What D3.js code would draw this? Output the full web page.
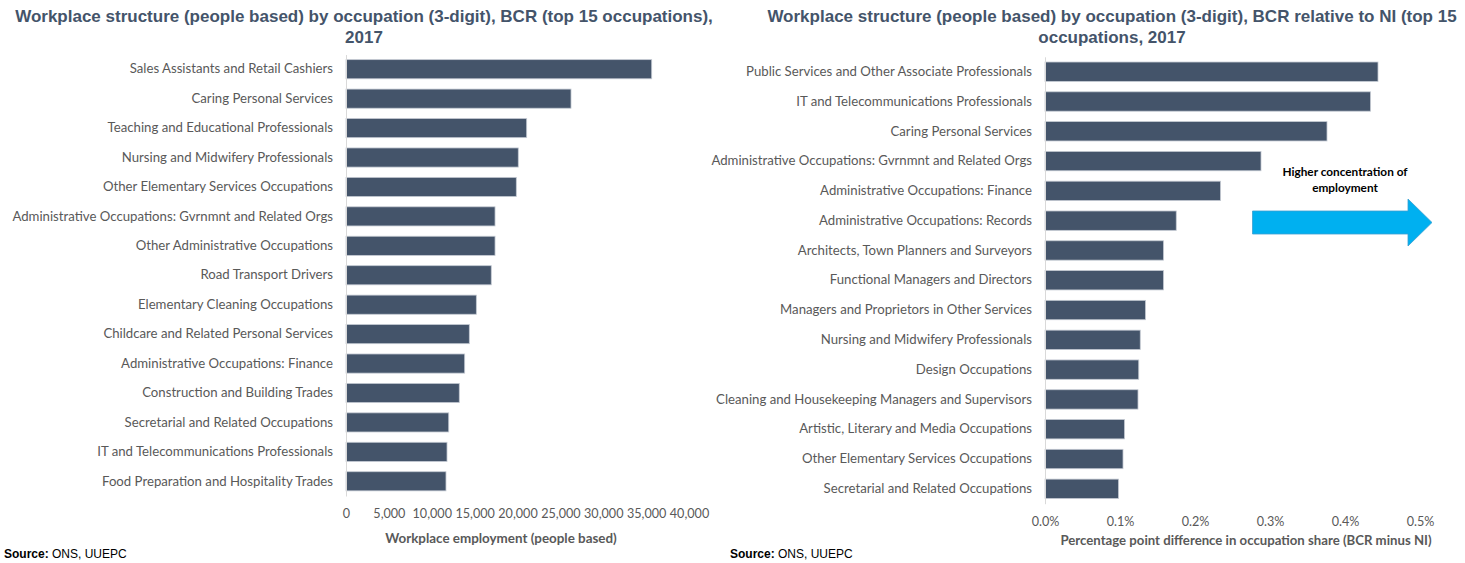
<!DOCTYPE html>
<html>
<head>
<meta charset="utf-8">
<script src="https://cdn.jsdelivr.net/npm/d3@7"></script>
<style>
  html, body { margin: 0; padding: 0; background: #fff; }
  svg { display: block; }
</style>
</head>
<body>
<svg id="chart" width="1465" height="563"></svg>
<script>
// Left panel: workplace employment, top 15 occupations (people)
const leftCategories = [
  "Sales Assistants and Retail Cashiers",
  "Caring Personal Services",
  "Teaching and Educational Professionals",
  "Nursing and Midwifery Professionals",
  "Other Elementary Services Occupations",
  "Administrative Occupations: Gvrnmnt and Related Orgs",
  "Other Administrative Occupations",
  "Road Transport Drivers",
  "Elementary Cleaning Occupations",
  "Childcare and Related Personal Services",
  "Administrative Occupations: Finance",
  "Construction and Building Trades",
  "Secretarial and Related Occupations",
  "IT and Telecommunications Professionals",
  "Food Preparation and Hospitality Trades"
];
const leftValues = [35650, 26240, 21070, 20090, 19860, 17380, 17380, 16940, 15200, 14380, 13840, 13210, 11980, 11780, 11660];
const leftTicks = [0, 5000, 10000, 15000, 20000, 25000, 30000, 35000, 40000];

// Right panel: percentage point difference in occupation share (BCR minus NI)
const rightCategories = [
  "Public Services and Other Associate Professionals",
  "IT and Telecommunications Professionals",
  "Caring Personal Services",
  "Administrative Occupations: Gvrnmnt and Related Orgs",
  "Administrative Occupations: Finance",
  "Administrative Occupations: Records",
  "Architects, Town Planners and Surveyors",
  "Functional Managers and Directors",
  "Managers and Proprietors in Other Services",
  "Nursing and Midwifery Professionals",
  "Design Occupations",
  "Cleaning and Housekeeping Managers and Supervisors",
  "Artistic, Literary and Media Occupations",
  "Other Elementary Services Occupations",
  "Secretarial and Related Occupations"
];
const rightValues = [0.444, 0.434, 0.376, 0.288, 0.234, 0.175, 0.158, 0.158, 0.134, 0.127, 0.125, 0.124, 0.106, 0.104, 0.098];
const rightTicks = [0, 0.1, 0.2, 0.3, 0.4, 0.5];

const BAR = "#44546a";
const TEXT = "#595959";
const TITLE = "#44546a";
const LABEL_FONT = "Lato, 'Open Sans', sans-serif";
const TITLE_FONT = "'Liberation Sans', Arial, sans-serif";
const LABEL_SIZE = 13.2;
const TICK_SIZE = 12.6;

const svg = d3.select("#chart");
svg.append("rect").attr("width", 1465).attr("height", 563).attr("fill", "#fff");

function drawPanel(cfg) {
  const g = svg.append("g");

  // title
  const t = g.append("text")
    .attr("x", cfg.titleX)
    .attr("text-anchor", "middle")
    .attr("font-family", TITLE_FONT)
    .attr("font-weight", "bold")
    .attr("font-size", 17)
    .attr("fill", TITLE);
  cfg.title.forEach((line, i) => {
    t.append("tspan").attr("x", cfg.titleX).attr("y", 22 + i * 21).text(line);
  });

  const x = d3.scaleLinear().domain(cfg.domain).range(cfg.xRange);
  const y = d3.scaleBand()
    .domain(cfg.categories)
    .range(cfg.yRange)
    .paddingInner(0.35)
    .paddingOuter(0.175);

  // bars
  g.append("g").selectAll("rect")
    .data(cfg.values)
    .join("rect")
    .attr("x", x(0))
    .attr("y", (d, i) => y(cfg.categories[i]))
    .attr("width", d => x(d) - x(0))
    .attr("height", y.bandwidth())
    .attr("fill", BAR)
    .attr("stroke", "#c3c9d2")
    .attr("stroke-width", 0.8);

  // category axis
  const yAxis = g.append("g")
    .attr("transform", `translate(${x(0)},0)`)
    .call(d3.axisLeft(y).tickSize(0).tickPadding(13));
  yAxis.select(".domain").attr("stroke", "#d9d9d9").attr("stroke-width", 1);
  yAxis.selectAll("text")
    .attr("font-family", LABEL_FONT)
    .attr("font-size", LABEL_SIZE)
    .attr("fill", TEXT);

  // value axis (labels only)
  const xAxis = g.append("g")
    .attr("transform", `translate(0,${cfg.yRange[1]})`)
    .call(d3.axisBottom(x).tickValues(cfg.ticks).tickFormat(cfg.tickFormat).tickSize(0).tickPadding(13));
  xAxis.select(".domain").remove();
  xAxis.selectAll("text")
    .attr("font-family", LABEL_FONT)
    .attr("font-size", TICK_SIZE)
    .attr("fill", TEXT);

  // axis title
  g.append("text")
    .attr("x", cfg.axisTitleX)
    .attr("y", cfg.axisTitleY)
    .attr("text-anchor", "middle")
    .attr("font-family", LABEL_FONT)
    .attr("font-weight", "bold")
    .attr("font-size", cfg.axisTitleSize)
    .attr("fill", TEXT)
    .text(cfg.axisTitle);

  // source note
  const s = g.append("text")
    .attr("x", cfg.sourceX)
    .attr("y", 558)
    .attr("font-family", TITLE_FONT)
    .attr("font-size", 12)
    .attr("fill", "#000");
  s.append("tspan").attr("font-weight", "bold").text("Source:");
  s.append("tspan").text(" ONS, UUEPC");

  return { x, y, g };
}

drawPanel({
  title: ["Workplace structure (people based) by occupation (3-digit), BCR (top 15 occupations),", "2017"],
  titleX: 364,
  categories: leftCategories,
  values: leftValues,
  ticks: leftTicks,
  tickFormat: d3.format(",.0f"),
  domain: [0, 40000],
  xRange: [346, 689],
  yRange: [54.5, 496],
  axisTitle: "Workplace employment (people based)",
  axisTitleX: 501,
  axisTitleY: 543,
  axisTitleSize: 13.4,
  sourceX: 4
});

const right = drawPanel({
  title: ["Workplace structure (people based) by occupation (3-digit), BCR relative to NI (top 15", "occupations, 2017"],
  titleX: 1112,
  categories: rightCategories,
  values: rightValues,
  ticks: rightTicks,
  tickFormat: d => d.toFixed(1) + "%",
  domain: [0, 0.5],
  xRange: [1045, 1420],
  yRange: [56.8, 503.7],
  axisTitle: "Percentage point difference in occupation share (BCR minus NI)",
  axisTitleX: 1246,
  axisTitleY: 545,
  axisTitleSize: 13.2,
  sourceX: 730
});

// annotation arrow
const arrow = [
  [1252.5, 211], [1408, 211], [1408, 199], [1432, 222.5],
  [1408, 246], [1408, 234], [1252.5, 234]
];
right.g.append("path")
  .attr("d", d3.line()(arrow) + "Z")
  .attr("fill", "#00b0f0")
  .attr("stroke", "#3a9fd0")
  .attr("stroke-width", 0.8);

const note = right.g.append("text")
  .attr("text-anchor", "middle")
  .attr("font-family", LABEL_FONT)
  .attr("font-weight", "bold")
  .attr("font-size", 11.8)
  .attr("fill", "#000");
note.append("tspan").attr("x", 1345).attr("y", 176).text("Higher concentration of");
note.append("tspan").attr("x", 1345).attr("y", 192).text("employment");
</script>
</body>
</html>
